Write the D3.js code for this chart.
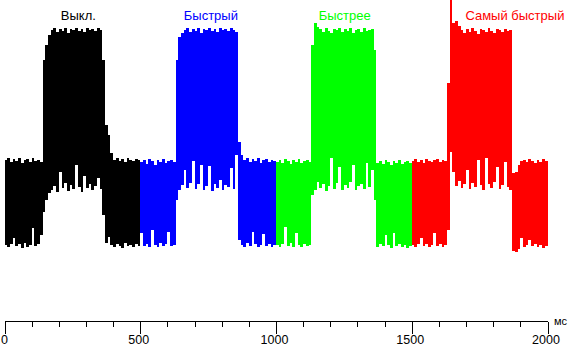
<!DOCTYPE html>
<html>
<head>
<meta charset="utf-8">
<script src="https://cdn.jsdelivr.net/npm/d3@7"></script>
<style>
  html, body { margin: 0; padding: 0; background: #fff; }
  svg { display: block; }
  text { font-family: "Liberation Sans", Arial, sans-serif; }
</style>
</head>
<body>
<svg id="chart" width="569" height="347"></svg>
<script>
// Overdrive modes, one 500 ms window each
const modes = ["Выкл.", "Быстрый", "Быстрее", "Самый быстрый"];
const modeColors = ["#000000", "#0000ff", "#00ff00", "#ff0000"];

// Signal envelope (arbitrary brightness units), one sample per 10 ms of each window
const offHi = [90,92,88,91,89,92,87,90,91,88,92,89,90, 88, 190,205,215,
  220,222,218,221,219,222,217,221,220,222,219,221,218,222,220,221,219,222,220,
  190,125,115,97, 90,92,89,91,88,92,90,89,91,90];
const offLo = [5,3,6,12,4,6,2,7,3,5,22,4,6, 15,38,50,57,
  60,64,58,78,62,67,59,65,61,85,63,58,74,62,66,60,64,72,61,
  35,7,13, 5,3,6,4,2,7,4,5,3,6,4];

const fastHi = [88,90,86,91,89,85,90,88,91,87,89,90,88, 190,213,217,
  220,222,218,221,219,222,217,221,220,222,219,221,218,222,220,221,219,222,220,218,
  108,95, 90,92,88,91,89,92,87,90,91,88,90,89];
const fastLo = [17,4,6,3,20,5,3,7,4,6,18,4,5, 50,
  60,65,80,62,67,89,61,66,85,60,64,84,59,66,62,70,60,65,63,82,61,95,
  10, 5,3,7,4,18,6,3,5,16,4,6,3,5];

const fasterHi = [88,90,87,91,89,86,90,88,91,87,89,90,88, 205,227,223,
  221,218,222,219,217,221,220,222,218,221,219,222,217,220,221,218,222,219,220,221,
  200, 87,89,86,90,88,85,89,87,90,86,88,89,87];
const fasterLo = [5,3,6,23,4,7,3,17,5,3,6,4,5, 55,
  60,68,62,66,59,64,92,61,67,83,60,65,62,68,85,60,64,66,61,87,63,80,
  50, 3,6,4,15,5,2,17,4,6,3,5,2,4];

const fastestHi = [89,91,88,90,87,91,89,88,90,91,88,90,89, 167,250,227,229,224,
  220,217,221,218,222,219,216,221,220,218,222,219,217,221,220,218,221,219,220,
  77,78,85,89, 90,88,91,89,87,90,88,91,89];
const fastestLo = [5,3,6,12,4,6,3,5,17,4,6,3,5, 20,98,
  78,64,69,62,66,80,61,67,63,90,65,60,92,66,62,68,83,61,65,88,63,60,
  -1,-2,1,12,3,5,10,4,6,3,5,2,4];

const highs = [offHi, fastHi, fasterHi, fastestHi];
const lows = [offLo, fastLo, fasterLo, fastestLo];

const windowMs = 500;
const sampleMs = 10;
const tickValues = d3.range(0, 2001, 100);
const labelValues = [0, 500, 1000, 1500, 2000];
const unitLabel = "мс";

// Layout
const svg = d3.select("#chart");
const x = d3.scaleLinear().domain([0, 2000]).range([4.5, 547.5]);
const y = d3.scaleLinear().domain([0, 250]).range([250, 0]);
const axisY = 321.5;
const titleAt = [272, 760, 1253, 1880];

const area = d3.area()
  .x(d => x(d.t))
  .y0(d => y(d.lo))
  .y1(d => y(d.hi))
  .curve(d3.curveStepAfter);

modes.forEach((name, m) => {
  const pts = highs[m].map((h, i) => ({ t: m * windowMs + i * sampleMs, hi: h, lo: lows[m][i] }));
  const last = pts[pts.length - 1];
  pts.push({ t: (m + 1) * windowMs, hi: last.hi, lo: last.lo });
  svg.append("path")
    .datum(pts)
    .attr("d", area)
    .attr("fill", modeColors[m])
    .attr("shape-rendering", "crispEdges");

  svg.append("text")
    .attr("x", x(titleAt[m]))
    .attr("y", 19.5)
    .attr("text-anchor", "middle")
    .attr("font-size", 13)
    .attr("fill", modeColors[m])
    .text(name);
});

// Time axis
const axis = svg.append("g").attr("shape-rendering", "crispEdges");
axis.append("line")
  .attr("x1", x(0)).attr("x2", x(2000))
  .attr("y1", axisY).attr("y2", axisY)
  .attr("stroke", "#000");
axis.selectAll("line.tick")
  .data(tickValues)
  .join("line")
  .attr("class", "tick")
  .attr("x1", d => Math.round(x(d)) + 0.5)
  .attr("x2", d => Math.round(x(d)) + 0.5)
  .attr("y1", axisY)
  .attr("y2", d => labelValues.includes(d) ? axisY + 12 : axisY + 5)
  .attr("stroke", "#000");
svg.selectAll("text.lbl")
  .data(labelValues)
  .join("text")
  .attr("class", "lbl")
  .attr("x", d => d === 0 ? x(d) : x(d) - 1.5)
  .attr("y", 344)
  .attr("text-anchor", "middle")
  .attr("font-size", 12.5)
  .attr("fill", "#000")
  .text(d => d);
svg.append("text")
  .attr("x", 554)
  .attr("y", 325)
  .attr("font-size", 11)
  .attr("fill", "#000")
  .text(unitLabel);
</script>
</body>
</html>
